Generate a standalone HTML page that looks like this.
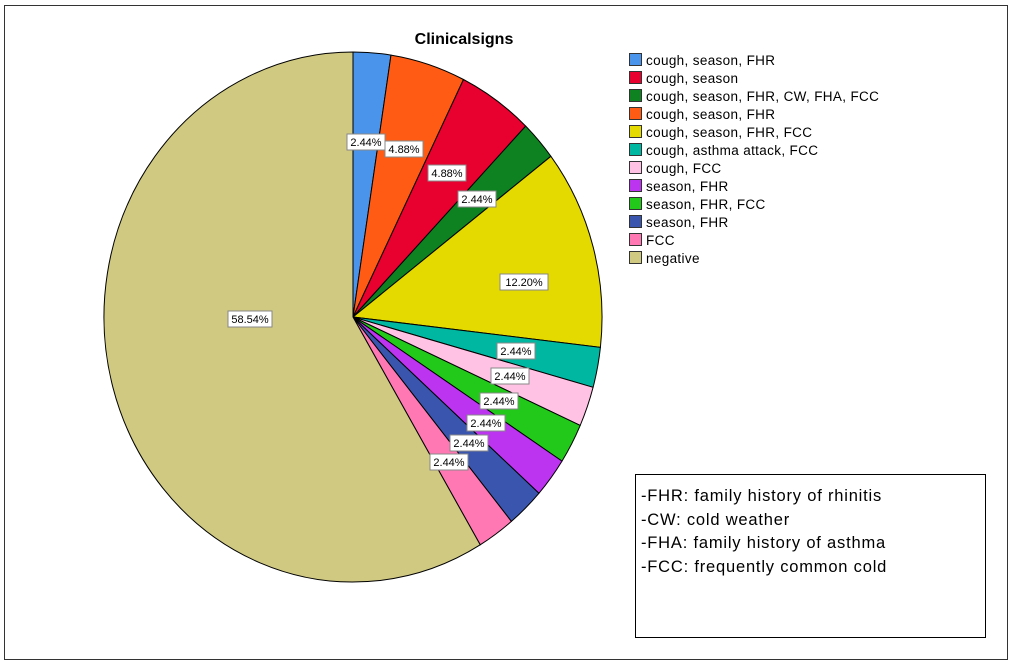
<!DOCTYPE html>
<html><head><style>body{margin:0;background:#fff}svg{display:block}</style></head><body>
<svg width="1012" height="662" xmlns="http://www.w3.org/2000/svg" font-family="Liberation Sans, sans-serif">
<rect x="4.5" y="5.5" width="1003" height="654" fill="#fff" stroke="#333" stroke-width="1"/>
<text x="464" y="44" text-anchor="middle" font-size="16" font-weight="bold" fill="#000">Clinicalsigns</text>
<g stroke="#000" stroke-width="1" stroke-linejoin="round">
<path d="M353,317 L353,52 A249,265 0 0 1 391.0,55.1 Z" fill="#4A94EC"/>
<path d="M353,317 L391.0,55.1 A249,265 0 0 1 463.5,79.5 Z" fill="#FF5B14"/>
<path d="M353,317 L463.5,79.5 A249,265 0 0 1 525.7,126.1 Z" fill="#E8002E"/>
<path d="M353,317 L525.7,126.1 A249,265 0 0 1 550.9,156.3 Z" fill="#0E8120"/>
<path d="M353,317 L550.9,156.3 A249,265 0 0 1 600.4,347.4 Z" fill="#E4DA00"/>
<path d="M353,317 L600.4,347.4 A249,265 0 0 1 593.1,387.3 Z" fill="#00B8A2"/>
<path d="M353,317 L593.1,387.3 A249,265 0 0 1 580.2,425.4 Z" fill="#FFC2E4"/>
<path d="M353,317 L580.2,425.4 A249,265 0 0 1 562.0,461.1 Z" fill="#22C91A"/>
<path d="M353,317 L562.0,461.1 A249,265 0 0 1 538.9,493.3 Z" fill="#BC34F0"/>
<path d="M353,317 L538.9,493.3 A249,265 0 0 1 511.4,521.4 Z" fill="#3A55AE"/>
<path d="M353,317 L511.4,521.4 A249,265 0 0 1 480.2,544.8 Z" fill="#FF78B4"/>
<path d="M353,317 L480.2,544.8 A249,265 0 1 1 353,52 Z" fill="#D0C982"/>
</g>
<g font-size="11" text-anchor="middle" fill="#000">
<g stroke="#888" stroke-width="1" fill="#fff">
<rect x="347" y="134" width="38" height="16"/><rect x="385" y="141" width="38" height="16"/>
<rect x="428" y="165" width="38" height="16"/><rect x="458" y="191" width="38" height="16"/>
<rect x="500" y="274" width="48" height="16"/><rect x="497" y="343" width="38" height="16"/>
<rect x="491" y="368" width="38" height="16"/><rect x="480" y="393" width="38" height="16"/>
<rect x="467" y="415" width="38" height="16"/><rect x="450" y="435" width="38" height="16"/>
<rect x="430" y="454" width="38" height="16"/><rect x="228" y="311" width="44" height="16"/>
</g>
<text x="366" y="146">2.44%</text><text x="404" y="153">4.88%</text>
<text x="447" y="177">4.88%</text><text x="477" y="203">2.44%</text>
<text x="524" y="286">12.20%</text><text x="516" y="355">2.44%</text>
<text x="510" y="380">2.44%</text><text x="499" y="405">2.44%</text>
<text x="486" y="427">2.44%</text><text x="469" y="447">2.44%</text>
<text x="449" y="466">2.44%</text><text x="250" y="323">58.54%</text>
</g>
<g font-size="13.5" fill="#000" letter-spacing="0.35">
<g stroke="#333" stroke-width="1">
<rect x="629.5" y="53.5" width="12" height="12" fill="#4A94EC"/>
<rect x="629.5" y="71.5" width="12" height="12" fill="#E8002E"/>
<rect x="629.5" y="89.5" width="12" height="12" fill="#0E8120"/>
<rect x="629.5" y="107.5" width="12" height="12" fill="#FF5B14"/>
<rect x="629.5" y="125.5" width="12" height="12" fill="#E4DA00"/>
<rect x="629.5" y="143.5" width="12" height="12" fill="#00B8A2"/>
<rect x="629.5" y="161.5" width="12" height="12" fill="#FFC2E4"/>
<rect x="629.5" y="179.5" width="12" height="12" fill="#BC34F0"/>
<rect x="629.5" y="197.5" width="12" height="12" fill="#22C91A"/>
<rect x="629.5" y="215.5" width="12" height="12" fill="#3A55AE"/>
<rect x="629.5" y="233.5" width="12" height="12" fill="#FF78B4"/>
<rect x="629.5" y="251.5" width="12" height="12" fill="#D0C982"/>
</g>
<text x="646" y="65">cough, season, FHR</text>
<text x="646" y="83">cough, season</text>
<text x="646" y="101">cough, season, FHR, CW, FHA, FCC</text>
<text x="646" y="119">cough, season, FHR</text>
<text x="646" y="137">cough, season, FHR, FCC</text>
<text x="646" y="155">cough, asthma attack, FCC</text>
<text x="646" y="173">cough, FCC</text>
<text x="646" y="191">season, FHR</text>
<text x="646" y="209">season, FHR, FCC</text>
<text x="646" y="227">season, FHR</text>
<text x="646" y="245">FCC</text>
<text x="646" y="263">negative</text>
</g>
<rect x="635.5" y="474.5" width="350" height="163" fill="#fff" stroke="#000"/>
<g font-size="16.5" fill="#000" letter-spacing="0.8">
<text x="641" y="501">-FHR: family history of rhinitis</text>
<text x="641" y="525">-CW: cold weather</text>
<text x="641" y="548">-FHA: family history of asthma</text>
<text x="641" y="572">-FCC: frequently common cold</text>
</g>
</svg>
</body></html>
